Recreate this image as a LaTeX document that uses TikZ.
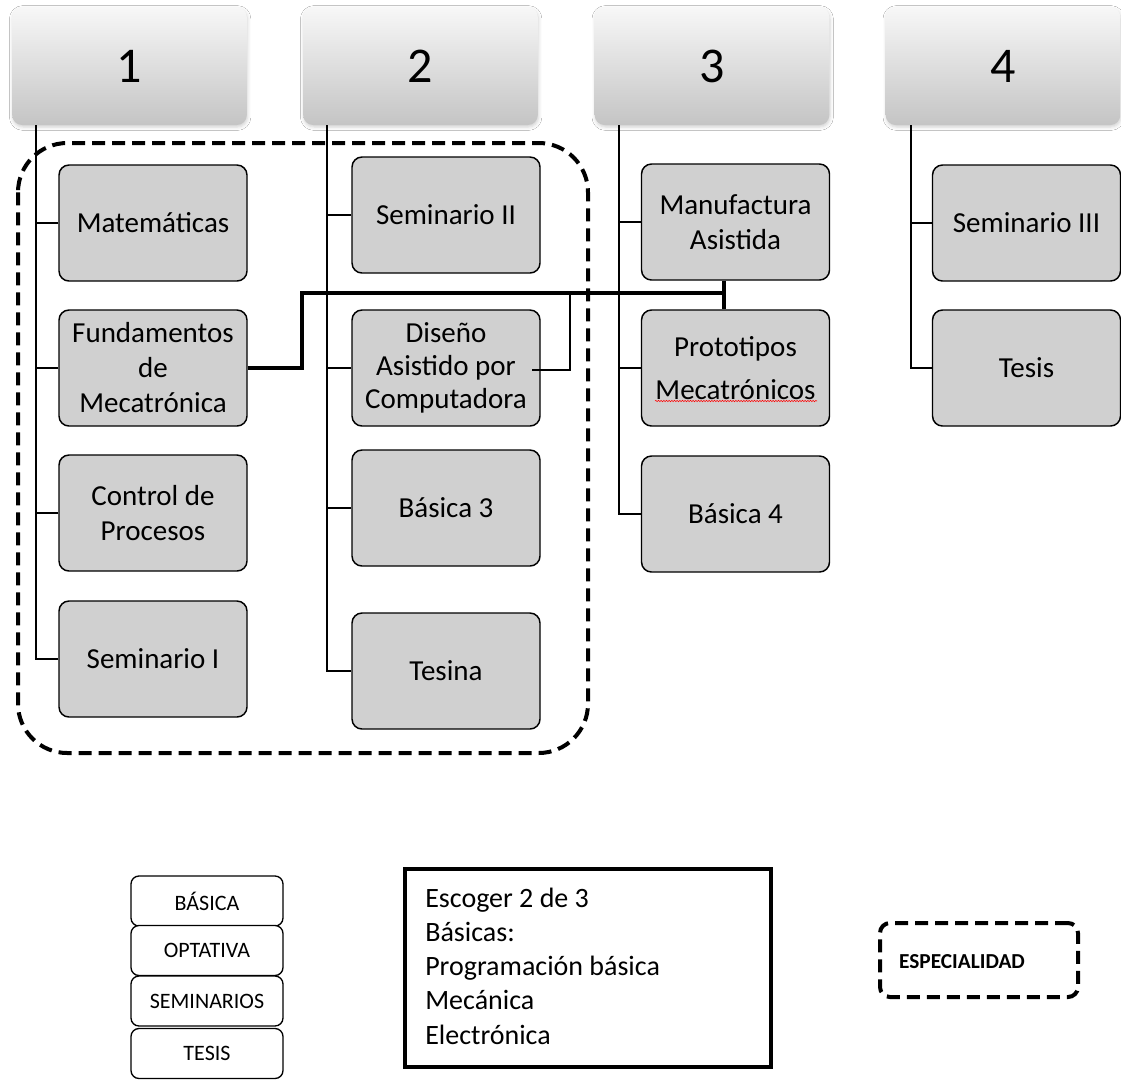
\documentclass[tikz,border=0pt]{standalone}
\usepackage{fontspec}
\setmainfont{Carlito}
\usetikzlibrary{shadows.blur,decorations.pathmorphing}
\definecolor{boxgray}{HTML}{D0D0D0}
\begin{document}
\begin{tikzpicture}[x=0.75pt,y=-0.75pt,
 hdr/.style={rounded corners=7.5pt, minimum width=176pt, minimum height=88.5pt, inner sep=0pt,
   top color=white!97!black, bottom color=white!77!black, font=\fontsize{37.5pt}{45pt}\selectfont,
   blur shadow={shadow xshift=0.5pt, shadow yshift=-1.5pt, shadow blur radius=2.5pt, shadow opacity=18}},
 course/.style={draw, line width=1.1pt, rounded corners=7.5pt, fill=boxgray, minimum width=141pt,
   minimum height=87pt, inner sep=0pt, align=center, font=\fontsize{21.75pt}{26.25pt}\selectfont},
 tree/.style={line width=1pt},
 link/.style={line width=2.4pt},
 spec/.style={line width=3pt, dash pattern=on 9.75pt off 5.25pt},
 legendbox/.style={draw, fill=white, line width=1pt, rounded corners=6pt, minimum width=114pt,
   minimum height=37.5pt, inner sep=0pt, font=\fontsize{16.5pt}{19pt}\selectfont},
]
\path[use as bounding box, fill=white] (0,0) rectangle (1121,1083);

% headers
\node[hdr] (h1) at (129.5,66) {1};
\node[hdr] (h2) at (420.5,66) {2};
\node[hdr] (h3) at (712,66) {3};
\node[hdr] (h4) at (1003,66) {4};

% courses
\node[course] (c11) at (153,223) {Matemáticas};
\node[course] (c12) at (153,368) {Fundamentos\\de\\Mecatrónica};
\node[course] (c13) at (153,513) {Control de\\Procesos};
\node[course] (c14) at (153,659) {Seminario I};

\node[course] (c21) at (446,215) {Seminario II};
\node[course, font=\fontsize{21.75pt}{24.75pt}\selectfont] (c22) at (446,368) {Diseño\\Asistido por\\Computadora};
\node[course] (c23) at (446,508) {Básica 3};
\node[course] (c24) at (446,671) {Tesina};

\node[course] (c31) at (735.5,222) {Manufactura\\Asistida};
\node[course] (c32) at (735.5,368) {Prototipos\\[6pt]Mecatrónicos};
\node[course] (c33) at (735.5,514) {Básica 4};

\node[course] (c41) at (1026.5,223) {Seminario III};
\node[course] (c42) at (1026.5,368) {Tesis};

% spell-check underline
\draw[red, line width=0.4pt, decorate, decoration={snake, amplitude=0.5pt, segment length=2pt}]
  (655,401) -- (817,401);

% tree lines
\coordinate (t1) at (36,125);
\coordinate (t2) at (327,125);
\coordinate (t3) at (619,125);
\coordinate (t4) at (911,125);
\draw[tree] (t1) |- (c14.west);
\draw[tree] (c11.west) -- (c11.west -| t1);
\draw[tree] (c12.west) -- (c12.west -| t1);
\draw[tree] (c13.west) -- (c13.west -| t1);
\draw[tree] (t2) |- (c24.west);
\draw[tree] (c21.west) -- (c21.west -| t2);
\draw[tree] (c22.west) -- (c22.west -| t2);
\draw[tree] (c23.west) -- (c23.west -| t2);
\draw[tree] (t3) |- (c33.west);
\draw[tree] (c31.west) -- (c31.west -| t3);
\draw[tree] (c32.west) -- (c32.west -| t3);
\draw[tree] (t4) |- (c42.west);
\draw[tree] (c41.west) -- (c41.west -| t4);

% thick links
\coordinate (j1) at (302,293);
\coordinate (j2) at (724,293);
\coordinate (j3) at (570,293);
\coordinate (d1) at (532,370);
\draw[link] (c12.east) -| (j1) -- (j2);
\draw[link] (c31.south -| j2) -- (c32.north -| j2);
\draw[tree, line width=1.5pt] (j3) |- (d1);

% specialty region
\draw[spec, rounded corners=37pt] (18,143) rectangle (588,753);

% legend
\node[legendbox] (lb1) at (207,901) {BÁSICA};
\node[legendbox] (lb2) at (207,950.5) {OPTATIVA};
\node[legendbox] (lb3) at (207,1001) {SEMINARIOS};
\node[legendbox] (lb4) at (207,1053.5) {TESIS};

\node[draw, line width=3pt, minimum width=274.5pt, minimum height=148.5pt] (choice) at (588,968) {};
\node[anchor=west, align=left, inner sep=0pt, font=\fontsize{21pt}{25.7pt}\selectfont] (choicetext) at (425,966)
  {Escoger 2 de 3\\Básicas:\\Programación básica\\Mecánica\\Electrónica};

\node[spec, draw, rounded corners=7.5pt, minimum width=148.5pt, minimum height=55.5pt] (espbox) at (979,960) {};
\node[font=\bfseries\fontsize{16pt}{18pt}\selectfont] (esptext) at (962,962) {ESPECIALIDAD};
\end{tikzpicture}
\end{document}
